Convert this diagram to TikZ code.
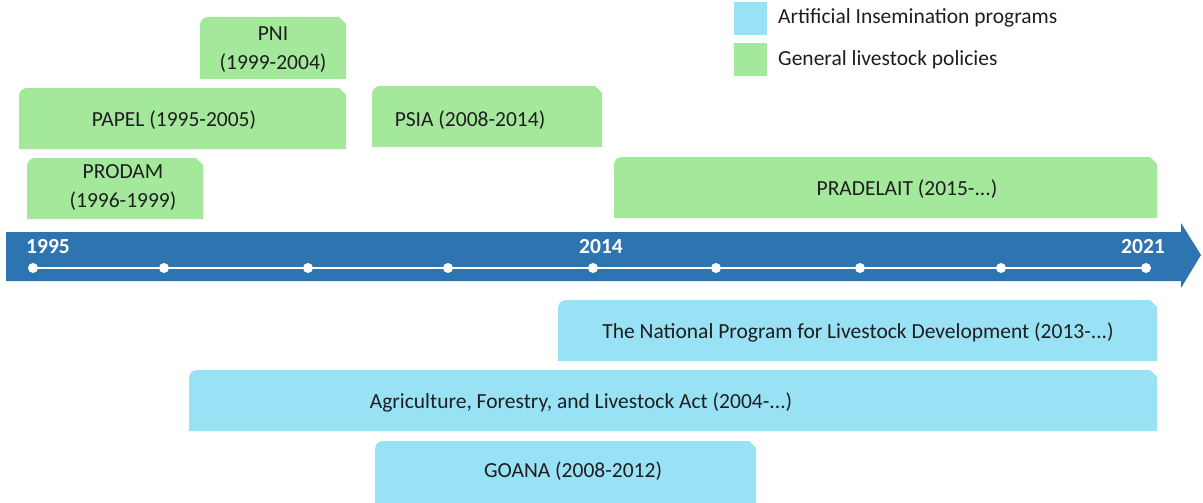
\documentclass[tikz,border=0pt]{standalone}
\usepackage{fontspec}
\setmainfont{Carlito}
\usepackage{tikz}
\usetikzlibrary{calc,positioning}

\definecolor{glgreen}{HTML}{A4E89C}
\definecolor{aiblue}{HTML}{99E2F6}
\definecolor{tlblue}{HTML}{2E74B0}
\definecolor{txtgray}{HTML}{1E1E1E}

\begin{document}
\begin{tikzpicture}[x=1pt,y=-1pt]
    \tikzstyle{lbl} = [text=txtgray, inner sep=0pt, align=center, font=\fontsize{21.5}{29}\selectfont]
    \tikzstyle{year} = [text=white, inner sep=0pt, font=\fontsize{21.5}{26}\selectfont\bfseries]
    \tikzstyle{dot} = [circle, fill=white, inner sep=0pt, minimum size=10pt]

    \useasboundingbox (0,0) rectangle (1203,503);

    % programme boxes: x1/y1/x2/y2/colour/name/text
    \foreach \xa/\ya/\xb/\yb/\col/\nm/\txt in {
        200/17/346/79/glgreen/pni/{PNI\\(1999-2004)},
        19/88/346/149/glgreen/papel/{PAPEL (1995-2005)},
        372/86/602/147/glgreen/psia/{PSIA (2008-2014)},
        27/158/203/219/glgreen/prodam/{PRODAM\\(1996-1999)},
        614/157/1157/218/glgreen/pradelait/{PRADELAIT (2015-...)},
        558/300/1157/361/aiblue/npld/{The National Program for Livestock Development (2013-...)},
        189/370/1157/431/aiblue/afla/{Agriculture, Forestry, and Livestock Act (2004-...)},
        375/441/756/510/aiblue/goana/{GOANA (2008-2012)}}
    {
        \fill[\col] (\xa,\yb) -- (\xa,\ya+8) arc[start angle=180, end angle=270, radius=8]
            -- (\xb-7,\ya) -- (\xb,\ya+7) -- (\xb,\yb) -- cycle;
    }

    \node[lbl] (pni) at (273,50) {PNI\\(1999-2004)};
    \node[lbl] (papel) at (174,120) {PAPEL (1995-2005)};
    \node[lbl] (psia) at (470,120) {PSIA (2008-2014)};
    \node[lbl] (prodam) at (123,188) {PRODAM\\(1996-1999)};
    \node[lbl] (pradelait) at (907,189) {PRADELAIT (2015-...)};
    \node[lbl] (npld) at (858,332) {The National Program for Livestock Development (2013-...)};
    \node[lbl] (afla) at (581,402) {Agriculture, Forestry, and Livestock Act (2004-...)};
    \node[lbl] (goana) at (573,471) {GOANA (2008-2012)};

    % legend
    \fill[aiblue] (734,2) rectangle (767,35);
    \fill[glgreen] (734,43) rectangle (767,76);
    \node[lbl, anchor=west] (legai) at (778,18) {Artificial Insemination programs};
    \node[lbl, anchor=west] (leggl) at (778,60) {General livestock policies};

    % timeline
    \fill[tlblue] (6,232) -- (1181,232) -- (1181,223) -- (1201,255) -- (1181,288)
        -- (1181,281) -- (6,281) -- cycle;
    \draw[white, line width=2pt] (33,268) -- (1146,268);
    \foreach \x/\nm in {33/d1995, 164/da, 308/db, 448/dc, 593/d2014, 716/dd, 860/de, 1001/df, 1146/d2021}
        \node[dot] (\nm) at (\x,268) {};

    \node[year] (y1995) at (48,247) {1995};
    \node[year] (y2014) at (601,247) {2014};
    \node[year] (y2021) at (1143,247) {2021};
\end{tikzpicture}
\end{document}
